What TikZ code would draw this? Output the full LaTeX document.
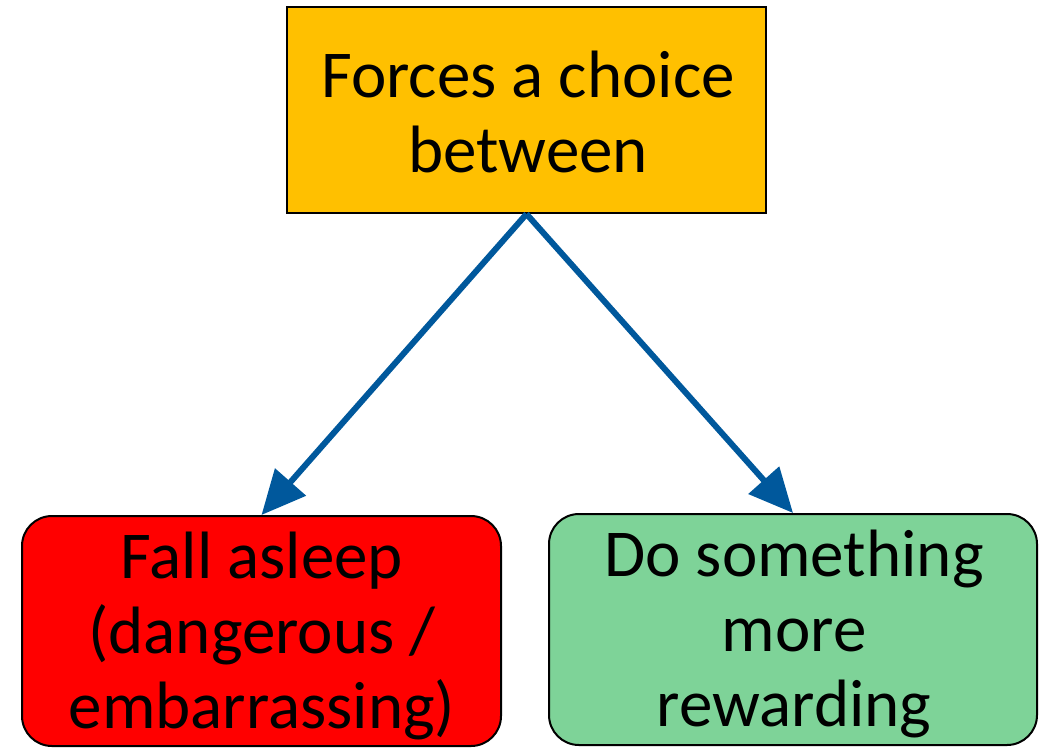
\documentclass[tikz,border=0pt]{standalone}
\usepackage{fontspec}
\setmainfont{Carlito}
\usetikzlibrary{arrows.meta}
\definecolor{topfill}{RGB}{255,192,0}
\definecolor{redfill}{RGB}{255,0,0}
\definecolor{greenfill}{RGB}{126,211,152}
\definecolor{arrowblue}{RGB}{0,88,156}
\tikzset{
  boxbase/.style={draw=black, line width=2pt, inner sep=0pt},
  sqbox/.style={boxbase, rectangle},
  rbox/.style={boxbase, rectangle, rounded corners=30pt},
  txt/.style={align=center, inner sep=0pt, font=\fontsize{67}{75}\selectfont, anchor=north},
  conn/.style={draw=arrowblue, line width=6pt, -{Triangle[length=44pt,width=40pt]}}
}
\begin{document}
\begin{tikzpicture}[x=1pt,y=-1pt]
\useasboundingbox (0,0) rectangle (1046,747);
\node[sqbox, fill=topfill, minimum width=479pt, minimum height=206pt] (top) at (526.5,110) {};
\node[rbox, fill=redfill, minimum width=479pt, minimum height=230pt] (fall) at (261.5,631) {};
\node[rbox, fill=greenfill, minimum width=488pt, minimum height=231pt] (reward) at (793,629.5) {};
\node[txt] (toptxt) at (528,51) {Forces a choice\\between};
\node[txt] (falltxt) at (262,532) {Fall asleep\\(dangerous /\\embarrassing)};
\node[txt] (rewardtxt) at (794,530) {Do something\\more\\rewarding};
\draw[conn] (top.south) -- (fall.north);
\draw[conn] (top.south) -- (reward.north);
\end{tikzpicture}
\end{document}
